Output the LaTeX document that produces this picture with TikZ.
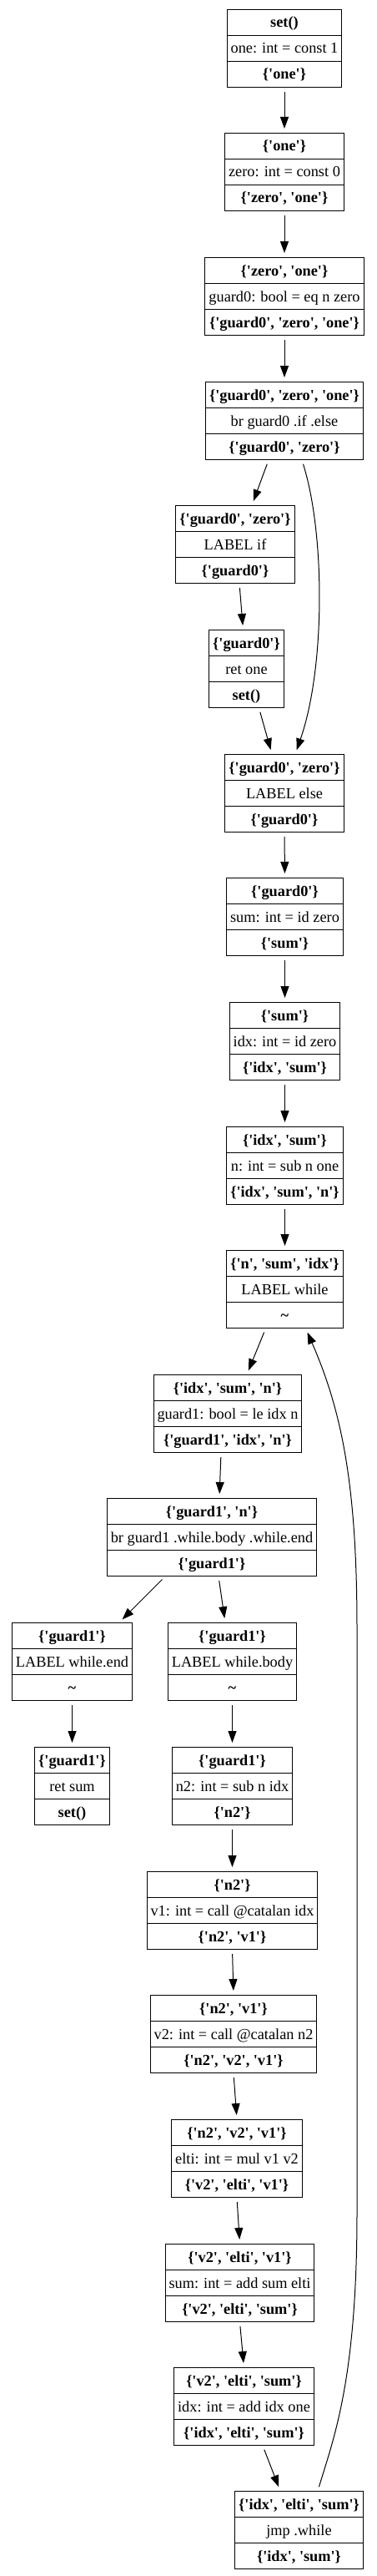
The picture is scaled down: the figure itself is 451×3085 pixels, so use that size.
\documentclass[tikz,border=0pt]{standalone}
\usepackage{fontspec}
\newfontfamily\gv{Liberation Serif}
\usetikzlibrary{shapes.multipart,arrows.meta}
\newcommand\Rw{\rule[-9pt]{0pt}{30pt}}
\newcommand\rows[3]{\Rw\textbf{#1}\nodepart{two}\Rw#2\nodepart{three}\Rw\textbf{#3}}
\begin{document}
\begin{tikzpicture}[x=1pt,y=-1pt,
  blk/.style={draw, line width=1pt, rectangle split, rectangle split parts=3,
    inner xsep=4.5pt, inner ysep=0pt, anchor=north,
    font=\gv\fontsize{18.3}{22}\selectfont, text=black},
  edge/.style={line width=1pt, -{Triangle[length=14pt,width=10pt]},
    shorten <=5pt, shorten >=5pt}]
\useasboundingbox (0,0) rectangle (451,3085);

\node[blk] (n1) at (341,11) {\rows{set()}{one: int = const 1}{\{'one'\}}};
\node[blk] (n2) at (341,159) {\rows{\{'one'\}}{zero: int = const 0}{\{'zero', 'one'\}}};
\node[blk] (n3) at (341,308) {\rows{\{'zero', 'one'\}}{guard0: bool = eq n zero}{\{'guard0', 'zero', 'one'\}}};
\node[blk] (n4) at (341,457) {\rows{\{'guard0', 'zero', 'one'\}}{br guard0 .if .else}{\{'guard0', 'zero'\}}};
\node[blk] (n5) at (282,605) {\rows{\{'guard0', 'zero'\}}{LABEL if}{\{'guard0'\}}};
\node[blk] (n6) at (295.5,754) {\rows{\{'guard0'\}}{ret one}{set()}};
\node[blk] (n7) at (341,903) {\rows{\{'guard0', 'zero'\}}{LABEL else}{\{'guard0'\}}};
\node[blk] (n8) at (341.5,1051) {\rows{\{'guard0'\}}{sum: int = id zero}{\{'sum'\}}};
\node[blk] (n9) at (341.5,1200) {\rows{\{'sum'\}}{idx: int = id zero}{\{'idx', 'sum'\}}};
\node[blk] (n10) at (341.5,1349) {\rows{\{'idx', 'sum'\}}{n: int = sub n one}{\{'idx', 'sum', 'n'\}}};
\node[blk] (n11) at (341.5,1497) {\rows{\{'n', 'sum', 'idx'\}}{LABEL while}{\textasciitilde}};
\node[blk] (n12) at (273,1646) {\rows{\{'idx', 'sum', 'n'\}}{guard1: bool = le idx n}{\{'guard1', 'idx', 'n'\}}};
\node[blk] (n13) at (254,1794) {\rows{\{'guard1', 'n'\}}{br guard1 .while.body .while.end}{\{'guard1'\}}};
\node[blk] (n14) at (86.5,1943) {\rows{\{'guard1'\}}{LABEL while.end}{\textasciitilde}};
\node[blk] (n15) at (278.5,1943) {\rows{\{'guard1'\}}{LABEL while.body}{\textasciitilde}};
\node[blk] (n16) at (86.5,2092) {\rows{\{'guard1'\}}{ret sum}{set()}};
\node[blk] (n17) at (278.5,2092) {\rows{\{'guard1'\}}{n2: int = sub n idx}{\{'n2'\}}};
\node[blk] (n18) at (278.5,2241) {\rows{\{'n2'\}}{v1: int = call @catalan idx}{\{'n2', 'v1'\}}};
\node[blk] (n19) at (280,2389) {\rows{\{'n2', 'v1'\}}{v2: int = call @catalan n2}{\{'n2', 'v2', 'v1'\}}};
\node[blk] (n20) at (284,2538) {\rows{\{'n2', 'v2', 'v1'\}}{elti: int = mul v1 v2}{\{'v2', 'elti', 'v1'\}}};
\node[blk] (n21) at (287.5,2687) {\rows{\{'v2', 'elti', 'v1'\}}{sum: int = add sum elti}{\{'v2', 'elti', 'sum'\}}};
\node[blk] (n22) at (292.5,2835) {\rows{\{'v2', 'elti', 'sum'\}}{idx: int = add idx one}{\{'idx', 'elti', 'sum'\}}};
\node[blk] (n23) at (358.5,2983) {\rows{\{'idx', 'elti', 'sum'\}}{jmp .while}{\{'idx', 'sum'\}}};

\draw[edge] (n1.south) -- (n2.north);
\draw[edge] (n2.south) -- (n3.north);
\draw[edge] (n3.south) -- (n4.north);
\draw[edge] ([xshift=-19pt]n4.south) -- ([xshift=20pt]n5.north);
\draw[edge] ([xshift=21pt]n4.south) .. controls (390,640) and (390,800) .. ([xshift=13pt]n7.north);
\draw[edge] ([xshift=5pt]n5.south) -- ([xshift=-4pt]n6.north);
\draw[edge] ([xshift=15pt]n6.south) -- ([xshift=-15pt]n7.north);
\draw[edge] (n7.south) -- (n8.north);
\draw[edge] (n8.south) -- (n9.north);
\draw[edge] (n9.south) -- (n10.north);
\draw[edge] (n10.south) -- (n11.north);
\draw[edge] ([xshift=-23pt]n11.south) -- ([xshift=23pt]n12.north);
\draw[edge] ([xshift=-8pt]n12.south) -- ([xshift=9pt]n13.north);
\draw[edge] ([xshift=-56pt]n13.south) -- ([xshift=56.5pt]n14.north);
\draw[edge] ([xshift=8pt]n13.south) -- ([xshift=-8.5pt]n15.north);
\draw[edge] (n14.south) -- (n16.north);
\draw[edge] (n15.south) -- (n17.north);
\draw[edge] (n17.south) -- (n18.north);
\draw[edge] (n18.south) -- (n19.north);
\draw[edge] (n19.south) -- (n20.north);
\draw[edge] (n20.south) -- (n21.north);
\draw[edge] (n21.south) -- (n22.north);
\draw[edge] ([xshift=22.5pt]n22.south) -- ([xshift=-22.5pt]n23.north);
\draw[edge] ([xshift=22.5pt]n23.north) .. controls (400,2920) and (428,2850) .. (428,2650)
  -- (428,1950) .. controls (428,1780) and (410,1690) .. ([xshift=25pt]n11.south);
\end{tikzpicture}
\end{document}
